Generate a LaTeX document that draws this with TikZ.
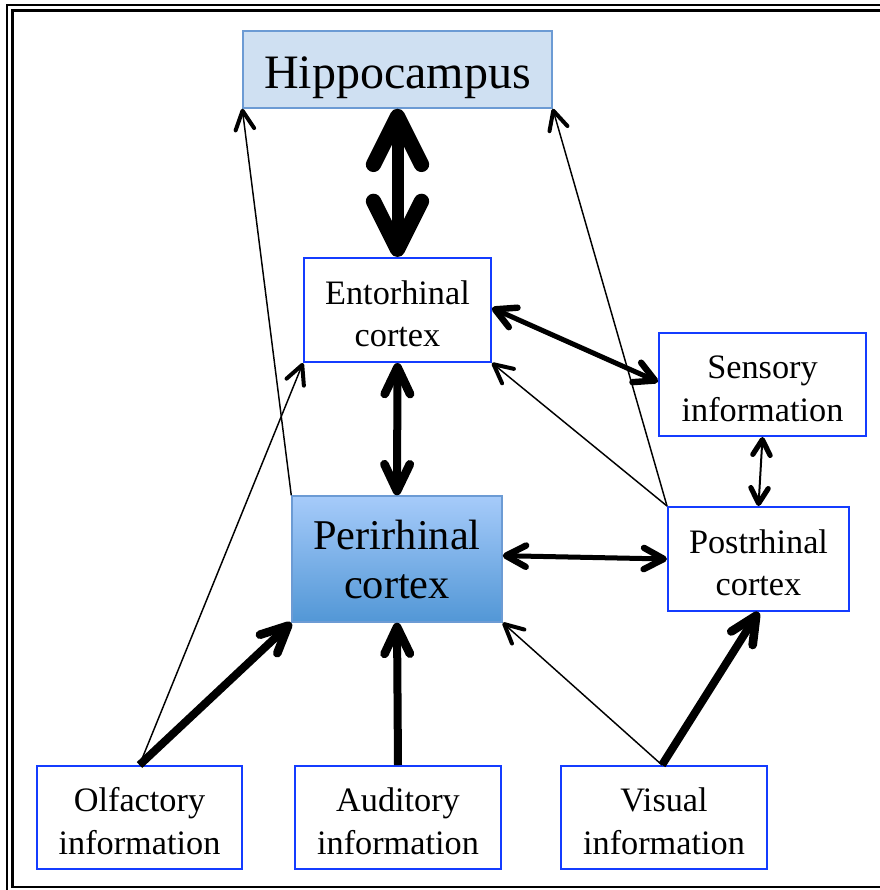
\documentclass[tikz,border=0pt]{standalone}
\usepackage{fontspec}
\setmainfont{Liberation Serif}
\usetikzlibrary{arrows.meta,calc}
\definecolor{hipfill}{RGB}{207,224,242}
\definecolor{lightedge}{RGB}{108,155,212}
\definecolor{boxblue}{RGB}{20,60,255}
\definecolor{pertop}{RGB}{166,203,250}
\definecolor{perbot}{RGB}{82,151,214}
\newcommand\myupstrut{\rule{0pt}{23.5pt}}
\begin{document}
\begin{tikzpicture}[x=0.75pt,y=-0.75pt,
  sz/.style 2 args={minimum width=#1*0.75pt, minimum height=#2*0.75pt},
  box/.style={draw=boxblue, line width=1.5pt, fill=white, inner sep=0pt, align=center,
    font=\fontsize{25.7}{32}\selectfont},
  hipbox/.style={draw=lightedge, line width=1.1pt, fill=hipfill, inner sep=0pt, align=center,
    font=\fontsize{36}{40}\selectfont, text depth=0pt, text height=28.5pt},
  perbox/.style={draw=lightedge, line width=1.1pt, top color=pertop, bottom color=perbot, inner sep=0pt,
    align=center, font=\fontsize{31.8}{36.75}\selectfont},
  arrhuge/.style={line width=9pt, {Straight Barb[round,length=36pt,width=36pt,line width=11.5pt 0]}-{Straight Barb[round,length=36pt,width=36pt,line width=11.5pt 0]}},
  arrbigd/.style={line width=6pt, {Straight Barb[round,length=20pt,width=19pt,line width=6.5pt 0]}-{Straight Barb[round,length=20pt,width=19pt,line width=6.5pt 0]}},
  arrbig/.style={line width=6pt, -{Straight Barb[round,length=20pt,width=19pt,line width=6.5pt 0]}},
  arrmed/.style={line width=3.75pt, {Straight Barb[round,length=15pt,width=16pt,line width=4.8pt 0]}-{Straight Barb[round,length=15pt,width=16pt,line width=4.8pt 0]}},
  arrsmall/.style={line width=1.5pt, {Straight Barb[round,length=11.5pt,width=13pt,line width=3.9pt 0]}-{Straight Barb[round,length=11.5pt,width=13pt,line width=3.9pt 0]}},
  arrthin/.style={line width=1.1pt, -{Straight Barb[round,length=14pt,width=14pt,line width=3pt 0]}},
  frameout/.style={draw=black, line width=1.5pt},
  framein/.style={draw=black, line width=2pt}
]
\useasboundingbox (0,0) rectangle (880,890);
\draw[frameout] (7,5) rectangle (893,895);
\draw[framein] (12.5,10.5) rectangle (886,887);

\node[hipbox, sz={309}{77}] (hip) at (397.5,69.5) {Hippocampus};
\node[box, sz={187}{104}] (ento) at (397.5,310) {\myupstrut Entorhinal\\cortex};
\node[box, sz={207}{103}] (sens) at (762.5,384.5) {\myupstrut Sensory\\information};
\node[perbox, sz={210}{126}] (peri) at (397,559) {Perirhinal\\cortex};
\node[box, sz={181}{104}] (post) at (758.5,559) {\myupstrut Postrhinal\\cortex};
\node[box, sz={205}{103}] (olf) at (139.5,817.5) {\myupstrut Olfactory\\information};
\node[box, sz={206}{103}] (aud) at (398,817.5) {\myupstrut Auditory\\information};
\node[box, sz={206}{103}] (vis) at (664,817.5) {\myupstrut Visual\\information};

\draw[arrhuge] (hip.south) -- (ento.north);
\draw[arrbigd] (ento.south) -- (peri.north);
\draw[arrmed] ([yshift=1.5pt]ento.east) -- ([yshift=2pt]sens.west);
\draw[arrmed] ([yshift=2.5pt]peri.east) -- (post.west);
\draw[arrsmall] (sens.south) -- (post.north);

\draw[arrthin] (peri.north west) -- (hip.south west);
\draw[arrthin] (post.north west) -- (hip.south east);
\draw[arrthin] (post.north west) -- (ento.south east);
\draw[arrthin] (olf.north) -- (ento.south west);
\draw[arrthin] ([xshift=-1.5pt]vis.north) -- (peri.south east);

\draw[arrbig] (olf.north) -- (peri.south west);
\draw[arrbig] (aud.north) -- (peri.south);
\draw[arrbig] ([xshift=-1.5pt]vis.north) -- (post.south);
\end{tikzpicture}
\end{document}
